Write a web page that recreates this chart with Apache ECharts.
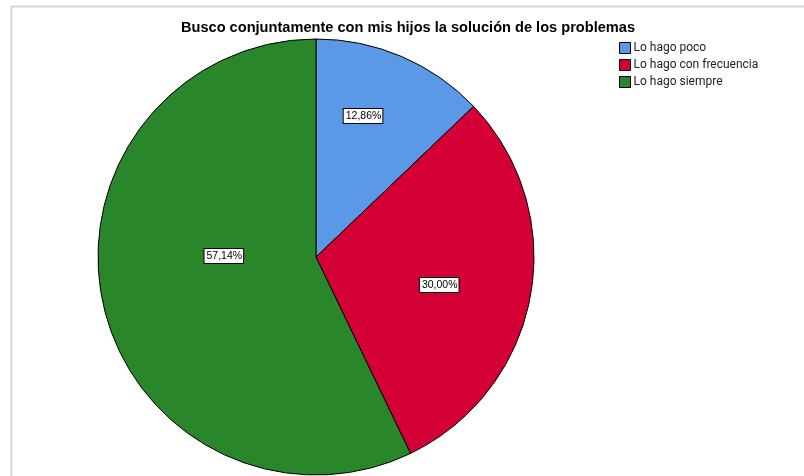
<!DOCTYPE html>
<html>
<head>
<meta charset="utf-8">
<script src="https://cdn.jsdelivr.net/npm/echarts@6/dist/echarts.min.js"></script>
<style>
  html, body { margin: 0; padding: 0; background: #fff; }
  #chart { width: 804px; height: 476px; }
</style>
</head>
<body>
<div id="chart"></div>
<script>
// datos de la tabla
var categorias = ['Lo hago poco', 'Lo hago con frecuencia', 'Lo hago siempre'];
var porcentajes = [12.86, 30.00, 57.14];
var colores = ['#5b98e6', '#d40035', '#2a862a'];
// desplazamiento de cada etiqueta respecto a su sitio por defecto
var etiquetaDx = [3, 13, 17];
var etiquetaDy = [-38, 8, -26];

var chart = echarts.init(document.getElementById('chart'), null, { renderer: 'canvas' });

var datos = categorias.map(function (c, i) {
  return { name: c, value: porcentajes[i], itemStyle: { color: colores[i] } };
});

var option = {
  backgroundColor: '#ffffff',
  animation: false,
  title: {
    text: 'Busco conjuntamente con mis hijos la solución de los problemas',
    left: 403,
    textAlign: 'center',
    top: 15,
    textStyle: {
      fontFamily: 'Liberation Sans',
      fontSize: 14.6,
      fontWeight: 'bold',
      color: '#000'
    }
  },
  legend: {
    orient: 'vertical',
    left: 614,
    top: 37,
    itemWidth: 11,
    itemHeight: 11,
    itemGap: 5,
    icon: 'rect',
    itemStyle: { borderColor: '#000', borderWidth: 1 },
    textStyle: {
      fontFamily: 'Roboto',
      fontSize: 12,
      color: '#222',
      padding: [0, 0, 0, -2]
    },
    data: categorias
  },
  graphic: [{
    type: 'rect',
    left: 9,
    top: 4,
    shape: { width: 800, height: 480 },
    style: { fill: 'none', stroke: '#d6d6d6', lineWidth: 2 },
    silent: true
  }],
  series: [{
    type: 'pie',
    center: [316, 257],
    radius: [0, 218],
    startAngle: 90,
    clockwise: true,
    avoidLabelOverlap: false,
    itemStyle: { borderColor: '#000', borderWidth: 1 },
    emphasis: { disabled: true },
    label: {
      show: true,
      position: 'inside',
      formatter: function (p) {
        return p.value.toFixed(2).replace('.', ',') + '%';
      },
      fontFamily: 'Liberation Sans',
      fontSize: 10.5,
      color: '#000',
      backgroundColor: '#fff',
      borderColor: '#000',
      borderWidth: 1,
      padding: [2, 1, 1, 2]
    },
    labelLine: { show: false },
    labelLayout: function (params) {
      return { dx: etiquetaDx[params.dataIndex], dy: etiquetaDy[params.dataIndex] };
    },
    data: datos
  }]
};

chart.setOption(option);
</script>
</body>
</html>
